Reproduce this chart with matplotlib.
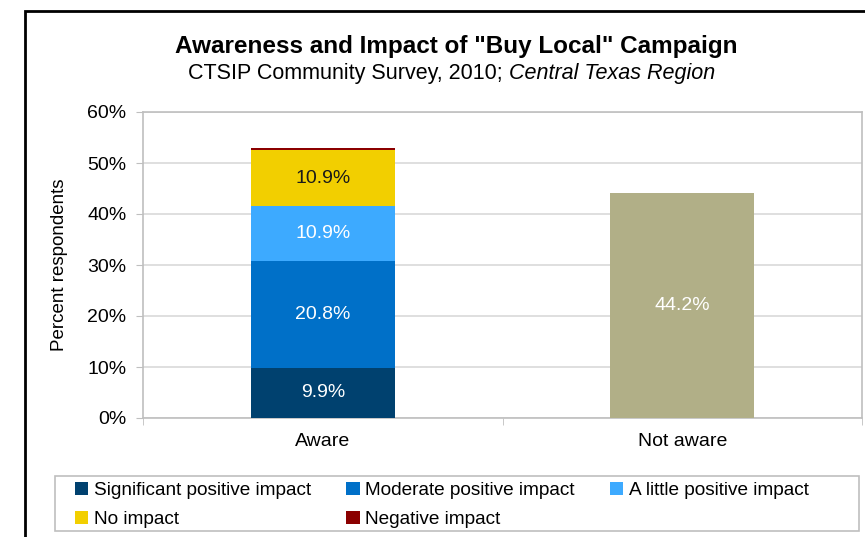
import matplotlib
matplotlib.use("Agg")
import matplotlib.pyplot as plt
from matplotlib.patches import Rectangle, Patch
import numpy as np

plt.rcParams['font.family'] = ['Liberation Sans', 'DejaVu Sans']

categories = ["Aware", "Not aware"]
series_names = ["Significant positive impact", "Moderate positive impact",
                "A little positive impact", "No impact", "Negative impact"]
aware_values = [9.9, 20.8, 10.9, 10.9, 0.5]
not_aware_value = 44.2
series_colors = ["#00416F", "#0070C8", "#3DAAFF", "#F2CF00", "#8B0000"]
not_aware_color = "#B1AF87"
label_colors = ["white", "white", "white", "#1a1a1a", None]
yticks = [0, 10, 20, 30, 40, 50, 60]

fig = plt.figure(figsize=(8.65, 5.37), dpi=100)
W, H = 865, 537

# outer frame
fig.patches.append(Rectangle((25 / W, -0.1), 1.2, (H - 11) / H + 0.1,
                             transform=fig.transFigure, fill=False,
                             edgecolor="black", linewidth=2))

ax = fig.add_axes([143 / W, (H - 418) / H, (862 - 143) / W, (418 - 112) / H])
x = np.arange(len(categories))
width = 0.4
bottom = 0.0
for v, c, name, lc in zip(aware_values, series_colors, series_names, label_colors):
    ax.bar(x[0], v, width, bottom=bottom, color=c, zorder=3)
    if lc is not None:
        ax.text(x[0], bottom + v / 2, f"{v:.1f}%", ha="center", va="center",
                color=lc, fontsize=14, zorder=4)
    bottom += v
ax.bar(x[1], not_aware_value, width, color=not_aware_color, zorder=3)
ax.text(x[1], not_aware_value / 2, f"{not_aware_value:.1f}%", ha="center",
        va="center", color="white", fontsize=14, zorder=4)

ax.set_xlim(-0.5, 1.5)
ax.set_ylim(0, 60)
ax.set_yticks(yticks)
ax.set_yticklabels([f"{t}%" for t in yticks], fontsize=14)
ax.set_xticks(x)
ax.set_xticklabels(categories, fontsize=14)
ax.set_xticks([-0.5, 0.5, 1.5], minor=True)
ax.tick_params(axis="x", which="major", length=0, pad=11)
ax.tick_params(axis="x", which="minor", length=5, color="#BFBFBF", direction="out")
ax.tick_params(axis="y", length=5, color="#BFBFBF", pad=7)
ax.grid(axis="y", color="#D9D9D9", linewidth=1.2, zorder=0)
for s in ax.spines.values():
    s.set_color("#BFBFBF")
    s.set_linewidth(1.2)
ax.set_ylabel("Percent respondents", fontsize=13.5, labelpad=14)

fig.text((178 + 735) / 2 / W, 1 - 47 / H, 'Awareness and Impact of "Buy Local" Campaign',
         ha="center", va="center", fontsize=17.5, fontweight="bold")
fig.text(188 / W, 1 - 73 / H, "CTSIP Community Survey, 2010; ", ha="left",
         va="center", fontsize=15.5)
t1 = fig.texts[-1]
fig.canvas.draw()
bb = t1.get_window_extent()
fig.text(bb.x1 / W, 1 - 73 / H, "Central Texas Region", ha="left", va="center",
         fontsize=15.5, style="italic")

# legend box
fig.patches.append(Rectangle((55 / W, (H - 531) / H), (859 - 55) / W, (531 - 476) / H,
                             transform=fig.transFigure, fill=False,
                             edgecolor="#BFBFBF", linewidth=1.2))

# legend filled row-wise like the reference (matplotlib fills column-first)
order = [0, 3, 1, 4, 2]
handles = [Patch(facecolor=series_colors[i], edgecolor="none") for i in order]
labels = [series_names[i] for i in order]
leg = fig.legend(handles, labels, ncol=3, loc="upper left",
                 bbox_to_anchor=(75 / W, 1 - 482 / H),
                 fontsize=13.7, frameon=False,
                 handlelength=0.7, handleheight=0.7,
                 handletextpad=0.3, borderpad=0.0, labelspacing=0.6,
                 columnspacing=1.85, borderaxespad=0)

fig.savefig("out.png", dpi=100)
